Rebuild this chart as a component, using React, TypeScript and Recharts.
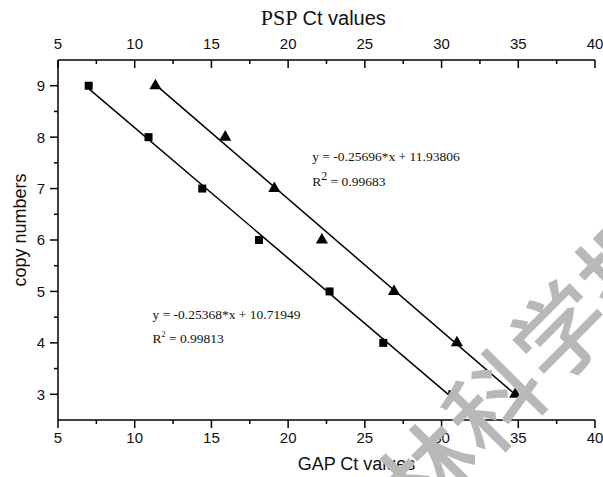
import React from "react";
import {
  ScatterChart,
  Scatter,
  XAxis,
  YAxis,
  ReferenceDot,
} from "recharts";

// GAP (squares, bottom axis) and PSP (triangles, top axis)
const copyNumbers = [9, 8, 7, 6, 5, 4, 3];
const gapCt = [7.0, 10.9, 14.4, 18.1, 22.7, 26.2, 30.7];
const pspCt = [11.35, 15.9, 19.1, 22.2, 26.9, 31.0, 34.8];

// fitted lines printed on the chart
const gapSlope = -0.25368;
const gapIntercept = 10.71949;
const pspSlope = -0.25696;
const pspIntercept = 11.93806;

const xTicks = [5, 7.5, 10, 12.5, 15, 17.5, 20, 22.5, 25, 27.5, 30, 32.5, 35, 37.5, 40];
const yTicks = [3, 3.5, 4, 4.5, 5, 5.5, 6, 6.5, 7, 7.5, 8, 8.5, 9];

const gapData = copyNumbers.map((y, i) => ({ x: gapCt[i], y }));
const pspData = copyNumbers.map((y, i) => ({ x: pspCt[i], y }));

const fitEnds = (xs: number[], slope: number, intercept: number) =>
  [Math.min(...xs), Math.max(...xs)].map((x) => ({ x, y: slope * x + intercept }));

const gapFit = fitEnds(gapCt, gapSlope, gapIntercept);
const pspFit = fitEnds(pspCt, pspSlope, pspIntercept);

const watermark = ["林", "科", "学", "报"];

const SANS = "'Liberation Sans', Arial, sans-serif";
const SERIF = "'Liberation Serif', 'Times New Roman', serif";

const TopTick = ({ x, y, payload }: any) => {
  const major = payload.value % 5 === 0;
  return (
    <g>
      <line x1={x} x2={x} y1={y} y2={y + (major ? 8 : 4)} stroke="#000" strokeWidth={1.5} />
      {major && (
        <text x={x} y={y - 11.5} textAnchor="middle" fontSize={15} style={{ fontFamily: SANS }} fill="#111">
          {payload.value}
        </text>
      )}
    </g>
  );
};

const BottomTick = ({ x, y, payload }: any) => {
  const major = payload.value % 5 === 0;
  return (
    <g>
      <line x1={x} x2={x} y1={y} y2={y + (major ? 8 : 4)} stroke="#000" strokeWidth={1.5} />
      {major && (
        <text x={x} y={y + 22.5} textAnchor="middle" fontSize={15} style={{ fontFamily: SANS }} fill="#111">
          {payload.value}
        </text>
      )}
    </g>
  );
};

const LeftTick = ({ x, y, payload }: any) => {
  const major = Number.isInteger(payload.value);
  return (
    <g>
      <line x1={x - (major ? 8 : 4)} x2={x} y1={y} y2={y} stroke="#000" strokeWidth={1.5} />
      {major && (
        <text x={x - 13} y={y + 5.4} textAnchor="end" fontSize={15} style={{ fontFamily: SANS }} fill="#111">
          {payload.value}
        </text>
      )}
    </g>
  );
};

const noDot = () => <g />;

const eqLabel = (text: React.ReactNode) => ({ viewBox }: any) => (
  <text x={viewBox.x} y={viewBox.y} fontSize={13.5} style={{ fontFamily: SERIF }} fill="#111">
    {text}
  </text>
);

export default function App() {
  return (
    <div style={{ position: "absolute", left: 0, top: 0, width: 603, height: 477, background: "#fff", overflow: "hidden" }}>
      <ScatterChart width={603} height={477} margin={{ top: 0, right: 8, bottom: 0, left: 0 }}>
        <XAxis
          xAxisId="psp"
          orientation="top"
          type="number"
          dataKey="x"
          domain={[5, 40]}
          ticks={xTicks}
          allowDataOverflow
          height={60}
          tickSize={0}
          tickMargin={0}
          tickLine={false}
          tick={<TopTick />}
          axisLine={{ stroke: "#000", strokeWidth: 1.5 }}
          interval={0}
          label={{
            content: ({ viewBox }: any) => {
              const cx = viewBox.x + viewBox.width / 2;
              return (
                <g>
                  <text x={cx - 29} y={viewBox.y + 25} textAnchor="end" fontSize={22} style={{ fontFamily: SERIF }} fill="#111">
                    PSP
                  </text>
                  <text x={cx - 24} y={viewBox.y + 25} textAnchor="start" fontSize={20} style={{ fontFamily: SANS }} fill="#111">
                    Ct values
                  </text>
                </g>
              );
            },
          }}
        />
        <XAxis
          xAxisId="gap"
          orientation="bottom"
          type="number"
          dataKey="x"
          domain={[5, 40]}
          ticks={xTicks}
          allowDataOverflow
          height={57}
          tickSize={0}
          tickMargin={0}
          tickLine={false}
          tick={<BottomTick />}
          axisLine={{ stroke: "#000", strokeWidth: 1.5 }}
          interval={0}
          label={{
            content: ({ viewBox }: any) => (
              <text x={viewBox.x + viewBox.width / 2 + 30} y={viewBox.y + 50} textAnchor="middle" fontSize={18} style={{ fontFamily: SANS }} fill="#111">
                GAP Ct values
              </text>
            ),
          }}
        />
        <YAxis
          type="number"
          dataKey="y"
          domain={[2.5, 9.5]}
          ticks={yTicks}
          allowDataOverflow
          width={58}
          tickSize={0}
          tickMargin={0}
          tickLine={false}
          tick={<LeftTick />}
          axisLine={{ stroke: "#000", strokeWidth: 1.5 }}
          interval={0}
          label={{
            content: () => (
              <text x={20} y={230} transform="rotate(-90 20 230)" textAnchor="middle" dominantBaseline="central" fontSize={18} style={{ fontFamily: SANS }} fill="#111">
                copy numbers
              </text>
            ),
          }}
        />

        <Scatter xAxisId="gap" data={gapFit} shape={noDot} line={{ stroke: "#000", strokeWidth: 1.5 }} isAnimationActive={false} />
        <Scatter xAxisId="psp" data={pspFit} shape={noDot} line={{ stroke: "#000", strokeWidth: 1.5 }} isAnimationActive={false} />
        <Scatter xAxisId="gap" data={gapData} shape="square" size={81} fill="#000" isAnimationActive={false} />
        <Scatter xAxisId="psp" data={pspData} shape="triangle" size={88} fill="#000" isAnimationActive={false} />

        <ReferenceDot xAxisId="gap" x={21.57} y={7.53} r={0} label={{ content: eqLabel("y = -0.25696*x + 11.93806") }} />
        <ReferenceDot
          xAxisId="gap"
          x={21.57}
          y={7.05}
          r={0}
          label={{
            content: eqLabel(
              <>
                R<tspan dy={-6} fontSize={12}>2</tspan>
                <tspan dy={6}> = 0.99683</tspan>
              </>
            ),
          }}
        />
        <ReferenceDot xAxisId="gap" x={11.16} y={4.46} r={0} label={{ content: eqLabel("y = -0.25368*x + 10.71949") }} />
        <ReferenceDot
          xAxisId="gap"
          x={11.16}
          y={3.99}
          r={0}
          label={{
            content: eqLabel(
              <>
                R<tspan dy={-6} fontSize={8}>2</tspan>
                <tspan dy={6}> = 0.99813</tspan>
              </>
            ),
          }}
        />
      </ScatterChart>
      <svg width={603} height={477} style={{ position: "absolute", left: 0, top: 0, pointerEvents: "none" }}>
        {watermark.map((ch, i) => (
          <text
            key={ch}
            x={425 + i * 66}
            y={468 - i * 70}
            transform={`rotate(-45 ${425 + i * 66} ${468 - i * 70})`}
            textAnchor="middle"
            dominantBaseline="central"
            fontSize={94}
            fontWeight={500}
            style={{ fontFamily: "'Noto Sans CJK SC', sans-serif" }}
            fill="#b8b8b8"
          >
            {ch}
          </text>
        ))}
      </svg>
    </div>
  );
}
